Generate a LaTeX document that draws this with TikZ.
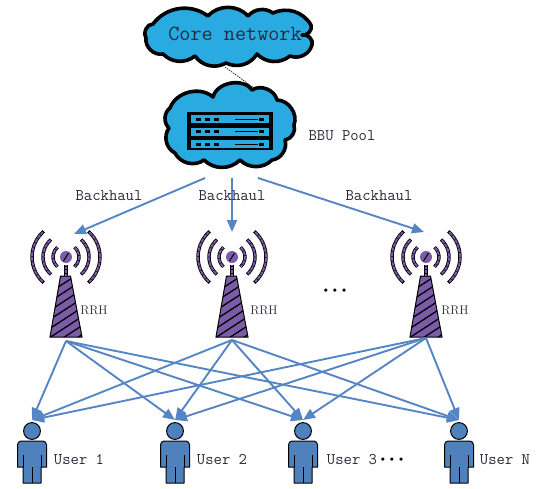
\documentclass[tikz,border=0pt]{standalone}
\usetikzlibrary{arrows.meta}
\definecolor{cloudblue}{HTML}{29ABE2}
\definecolor{linkblue}{HTML}{5585C5}
\definecolor{userblue}{HTML}{4F81BD}
\definecolor{towerpurple}{HTML}{7B5CA8}
\definecolor{labelgrey}{HTML}{2A2A3A}
\tikzset{
  cloudline/.style={draw=black,line width=3.6pt,fill=cloudblue,line join=round},
  link/.style={draw=linkblue,line width=1.9pt,-{Triangle[length=12pt,width=10pt]}},
  lbl/.style={font=\ttfamily\fontsize{16.2}{17}\selectfont,text=labelgrey,inner sep=0pt},
  rrhlbl/.style={font=\fontsize{12.5}{14}\selectfont,text=labelgrey,inner sep=0pt},
  dotlbl/.style={font=\fontsize{12}{12}\selectfont,text=black,inner sep=0pt},
  pics/tower/.style={code={
    \path[fill=towerpurple] (-16,0) -- (-5.5,-61) -- (4.5,-61) -- (16,0) -- cycle;
    \begin{scope}
      \clip (-16,0) -- (-5.5,-61) -- (4.5,-61) -- (16,0) -- cycle;
      \foreach \k in {-30,-21,...,80}{\draw[black,line width=1.3pt] (-20,-\k) -- (20,-\k-26);}
    \end{scope}
    \draw[black,line width=1pt,line join=miter] (-16,0) -- (-5.5,-61) -- (4.5,-61) -- (16,0) -- cycle;
    \draw[line width=3.2pt,black] (0,-61) -- (0,-72);
    \draw[line width=2pt,towerpurple,dash pattern=on 2.5pt off 1pt] (0,-61) -- (0,-72);
    \fill[towerpurple] (0,-80) circle (6);
    \draw[black,line width=1pt] (-2.5,-76) -- (2.5,-84);
    \foreach \r in {13,23,34}{
      \foreach \s/\e in {-49/49,131/229}{
        \draw[black,line width=3.4pt] (0,-80) ++(\s:\r) arc[start angle=\s,end angle=\e,radius=\r];
      }
      \foreach \s/\e in {-47/47,133/227}{
        \draw[towerpurple,line width=1.8pt,dash pattern=on 4pt off .8pt] (0,-80) ++(\s:\r) arc[start angle=\s,end angle=\e,radius=\r];
      }
    }
  }},
  pics/person/.style={code={
    \draw[black,line width=1pt,fill=userblue] (0,0) circle (8.4);
    \draw[black,line width=1pt,fill=userblue,line join=round]
      (-11,10) -- (11,10) to[out=0,in=90] (14.5,14) -- (14.5,36) -- (9,36) -- (9,52) -- (-9,52) -- (-9,36) -- (-14.5,36) -- (-14.5,14) to[out=90,in=180] cycle;
    \draw[black,line width=.8pt] (-9,24) -- (-9,36) (9,24) -- (9,36) (0,36) -- (0,52);
  }}
}
\begin{document}
\begin{tikzpicture}[x=1pt,y=-1pt]
\useasboundingbox (0,0) rectangle (557,488);
% core cloud
\path[cloudline] (153,24) to[bend left=45] (208,16) to[bend left=48] (248,16) to[bend left=42] (273,13) to[bend left=42] (311,25)
  to[bend left=65] (302,35) to[bend left=65] (312,45) to[bend left=48] (290,56) to[bend left=42] (257,54) to[bend left=42] (226,63)
  to[bend left=42] (195,56) to[bend left=42] (163,54) to[bend left=55] (146,38) to[bend left=65] cycle;
\node[font=\ttfamily\fontsize{21.6}{22}\selectfont,text=labelgrey,inner sep=0pt] (core) at (235,34) {Core network};
% BBU cloud
\path[cloudline] (170,108) to[bend left=55] (213,97) to[bend left=65] (252,90) to[bend left=55] (277,100) to[bend left=55] (294,125)
  to[bend left=50] (285,140) to[bend left=50] (272,160) to[bend left=45] (240,160) to[bend left=45] (204,160) to[bend left=50] (175,153)
  to[bend left=50] (169,128) to[bend left=50] cycle;
% server
\fill[black] (187,112) rectangle (273,150);
\foreach \yy in {115,127.5,140}{
  \fill[cloudblue] (191,\yy) rectangle (269,\yy+8);
  \fill[black] (196,\yy+2.5) rectangle (201,\yy+5.5);
  \fill[black] (205,\yy+2.5) rectangle (210,\yy+5.5);
  \fill[black] (214,\yy+2.5) rectangle (219,\yy+5.5);
  \fill[black] (235,\yy+3.5) rectangle (258,\yy+4.5);
  \fill[black] (259,\yy+2.5) rectangle (264,\yy+5.5);
}
\coordinate (coreout) at (225,67);
\coordinate (bbuin) at (254,88);
\draw[black,line width=.6pt,dash pattern=on 1.5pt off 1pt] (coreout) -- (bbuin);
\node[lbl] (bbulabel) at (342,136) {BBU Pool};
% towers
\pic at (66,337) {tower};
\pic at (232,337) {tower};
\pic at (426,337) {tower};
\node[rrhlbl] (r1) at (94,310) {RRH};
\node[rrhlbl] (r2) at (264,310) {RRH};
\node[rrhlbl] (r3) at (455,310) {RRH};
\node[dotlbl] (dots) at (335,291) {\textbullet\textbullet\textbullet};
% users
\pic at (32,431) {person};
\pic at (175,431) {person};
\pic at (303,431) {person};
\pic at (459,431) {person};
\node[lbl] (u1) at (79,460) {User 1};
\node[lbl] (u2) at (222,460) {User 2};
\node[lbl] (u3) at (352,460) {User 3};
\node[lbl] (u4) at (505,460) {User N};
\node[dotlbl] (dots2) at (392,460) {\textbullet\textbullet\textbullet};
% backhaul
\coordinate (b1) at (205,178);
\coordinate (b2) at (232,178);
\coordinate (b3) at (258,178);
\coordinate (t1in) at (74,234);
\coordinate (t2in) at (232,232);
\coordinate (t3in) at (424,232);
\draw[link] (b1) -- (t1in);
\draw[link] (b2) -- (t2in);
\draw[link] (b3) -- (t3in);
\node[lbl] (h1) at (109,196) {Backhaul};
\node[lbl] (h2) at (232,196) {Backhaul};
\node[lbl] (h3) at (379,196) {Backhaul};
% access links
\coordinate (t1) at (66,341);
\coordinate (t2) at (232,340);
\coordinate (t3) at (426,338);
\coordinate (e1) at (32,420);
\coordinate (e2) at (175,420);
\coordinate (e3) at (303,420);
\coordinate (e4) at (459,420);
\foreach \t in {t1,t2,t3}{\foreach \e in {e1,e2,e3,e4}{\draw[link] (\t) -- (\e);}}
\end{tikzpicture}
\end{document}
